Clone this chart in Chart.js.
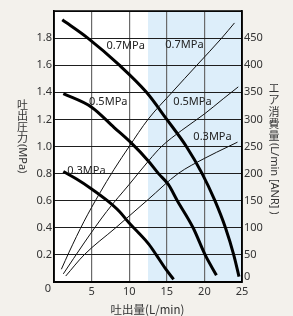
<!DOCTYPE html>
<html><head><meta charset="utf-8">
<script src="https://cdn.jsdelivr.net/npm/chart.js@4.4.1/dist/chart.umd.min.js"></script>
<style>html,body{margin:0;padding:0;background:#f3f1ec;}#wrap{width:293px;height:316px;position:relative;}</style>
</head><body><div id="wrap"><canvas id="c"></canvas></div>
<script>
// ---- data ----
const pressureNames = ['0.7MPa', '0.5MPa', '0.3MPa'];
// discharge pressure curves (MPa) vs discharge flow (L/min)
const flowP07 = [1.1, 4.5, 8.7, 12.3, 15.0, 17.6, 19.7, 21.4, 22.8, 23.9, 24.6];
const pres07  = [1.935, 1.8, 1.6, 1.4, 1.2, 1.0, 0.8, 0.6, 0.4, 0.2, 0.04];
const flowP05 = [1.24, 5, 8, 10.2, 12.6, 13.9, 15.2, 16.4, 18.5, 20.1, 21.6];
const pres05  = [1.39, 1.29, 1.14, 1.03, 0.89, 0.8, 0.72, 0.6, 0.4, 0.2, 0.05];
const flowP03 = [1.24, 3, 5, 7.1, 8.7, 10, 11.3, 12.6, 13.6, 14.8, 15.9];
const pres03  = [0.815, 0.76, 0.687, 0.6, 0.52, 0.435, 0.36, 0.28, 0.2, 0.1, 0.02];
// air consumption (L/min [ANR]) vs discharge flow (L/min)
const flowA07 = [0.98, 2, 4, 6, 8, 10, 12.5, 15.7, 19, 22.3, 24];
const air07   = [23.5, 55, 112, 162, 208, 250, 300, 350, 400, 450, 478];
const flowA05 = [1.24, 4, 7, 10, 12.67, 14.3, 17, 20, 22.5, 24.5];
const air05   = [15, 72, 130, 180, 225, 250, 280, 310, 338, 360];
const flowA03 = [1.56, 4, 8.2, 12.5, 16.5, 20, 23.2, 24.4];
const air03   = [11, 50, 100, 152, 200, 228, 250, 258];
// axes
const xMin = 0, xMax = 25, xStep = 5;
const pMin = 0, pMax = 2.0, pStep = 0.2;
const aMin = 0, aMax = 500, aStep = 50;
const shadeFrom = 12.5;
const xTitle = '吐出量(L/min)';
const yTitleCJK = ['吐','出','圧','力'], yTitleLatin = '(MPa)';
const y2TitleCJK = ['エ','ア','消','費','量'], y2TitleLatin = '(L/min [ANR] )';

const pts = (xs, ys) => xs.map((v, i) => ({x: v, y: ys[i]}));
const thick = (xs, ys, name) => ({label: name, data: pts(xs, ys), yAxisID: 'y', borderColor: '#000', borderWidth: 3, pointRadius: 0, cubicInterpolationMode: 'monotone', fill: false});
const thin = (xs, ys, name) => ({label: name, data: pts(xs, ys), yAxisID: 'y2', borderColor: '#111', borderWidth: 1, pointRadius: 0, cubicInterpolationMode: 'monotone', fill: false});

const FONT = "'Noto Sans', 'DejaVu Sans', sans-serif";
const NARROW = "'Liberation Sans Narrow', 'Noto Sans', sans-serif";
const CJK = "'Noto Sans CJK JP', 'Noto Sans', sans-serif";

const deco = {
  id: 'deco',
  beforeDraw(chart) {
    const {ctx, chartArea: a, scales: {x}} = chart;
    ctx.save();
    ctx.fillStyle = '#ffffff';
    ctx.fillRect(a.left, a.top, a.right - a.left, a.bottom - a.top);
    const xs = x.getPixelForValue(shadeFrom);
    ctx.fillStyle = '#ddeefa';
    ctx.fillRect(xs, a.top, a.right - xs, a.bottom - a.top);
    ctx.restore();
  },
  afterDatasetsDraw(chart) {
    const {ctx, chartArea: a, scales: {x, y, y2}} = chart;
    ctx.save();
    // frame
    ctx.strokeStyle = '#000'; ctx.lineWidth = 1.5;
    ctx.strokeRect(a.left, a.top, a.right - a.left, a.bottom - a.top);
    // curve labels
    ctx.fillStyle = '#222';
    ctx.font = "11px " + FONT;
    ctx.textAlign = 'left'; ctx.textBaseline = 'middle';
    const lab = [
      [pressureNames[0], 6.99, 1.743], [pressureNames[0], 14.8, 1.75],
      [pressureNames[1], 4.67, 1.333], [pressureNames[1], 15.87, 1.333],
      [pressureNames[2], 18.53, 1.07], [pressureNames[2], 1.77, 0.82]
    ];
    lab.forEach(([t, vx, vy]) => ctx.fillText(t, x.getPixelForValue(vx), y.getPixelForValue(vy)));
    // corner zeros
    ctx.fillStyle = '#333';
    ctx.font = "11px " + FONT;
    ctx.textAlign = 'center';
    ctx.fillText('0', a.left - 6, a.bottom + 7);
    ctx.font = "11px " + NARROW;
    ctx.textAlign = 'left';
    ctx.fillText('0', a.right + 2, a.bottom - 5);
    // left title (vertical)
    ctx.font = "11px " + CJK;
    ctx.textAlign = 'center';
    let cy = 105;
    yTitleCJK.forEach(c => { ctx.fillText(c, 22.5, cy); cy += 11; });
    ctx.save(); ctx.translate(22.5, cy - 5); ctx.rotate(Math.PI / 2);
    ctx.font = "11px " + FONT; ctx.textAlign = 'left';
    ctx.fillText(yTitleLatin, 0, 0); ctx.restore();
    // right title (vertical)
    ctx.font = "11px " + CJK;
    cy = 88;
    y2TitleCJK.forEach(c => { ctx.fillText(c, 274, cy); cy += 12; });
    ctx.save(); ctx.translate(274, cy - 5); ctx.rotate(Math.PI / 2);
    ctx.font = "11px " + FONT; ctx.textAlign = 'left';
    ctx.fillText(y2TitleLatin, 0, 0); ctx.restore();
    // x title
    ctx.font = "11.5px " + CJK;
    ctx.textAlign = 'center';
    ctx.fillText(xTitle, 147.5, 310);
    ctx.restore();
  }
};

new Chart(document.getElementById('c'), {
  type: 'line',
  data: {datasets: [
    thin(flowA07, air07, 'air 0.7'), thin(flowA05, air05, 'air 0.5'), thin(flowA03, air03, 'air 0.3'),
    thick(flowP07, pres07, pressureNames[0]), thick(flowP05, pres05, pressureNames[1]), thick(flowP03, pres03, pressureNames[2])
  ]},
  options: {
    responsive: true, maintainAspectRatio: false, animation: false,
    layout: {padding: {top: 11, left: 0, right: 0, bottom: 0}},
    plugins: {legend: {display: false}, tooltip: {enabled: false}},
    scales: {
      x: {type: 'linear', min: xMin, max: xMax,
        afterFit(s) { s.height = 34; },
        ticks: {stepSize: xStep, autoSkip: false, maxRotation: 0, padding: 3, color: '#333', font: {family: FONT, size: 11},
          callback: v => v === 0 ? '' : String(v)},
        grid: {color: '#6a6a6a', lineWidth: 1.2, drawTicks: false},
        border: {display: true, color: '#000', width: 1.5}},
      y: {type: 'linear', position: 'left', min: pMin, max: pMax,
        afterFit(s) { s.width = 54; },
        ticks: {stepSize: pStep, autoSkip: false, padding: 2, color: '#333', font: {family: FONT, size: 11},
          callback: v => (v < 0.01 || v > 1.99) ? '' : Number(v).toFixed(1)},
        grid: {color: '#1e1e1e', lineWidth: 1, drawTicks: false},
        border: {display: true, color: '#000', width: 1.5}},
      y2: {type: 'linear', position: 'right', min: aMin, max: aMax,
        afterFit(s) { s.width = 51; },
        ticks: {stepSize: aStep, autoSkip: false, padding: 2, color: '#333', font: {family: NARROW, size: 11},
          callback: v => (v === 0 || v === 500) ? '' : String(v)},
        grid: {display: false, drawTicks: false},
        border: {display: true, color: '#000', width: 1.5}}
    }
  },
  plugins: [deco]
});
</script></body></html>
